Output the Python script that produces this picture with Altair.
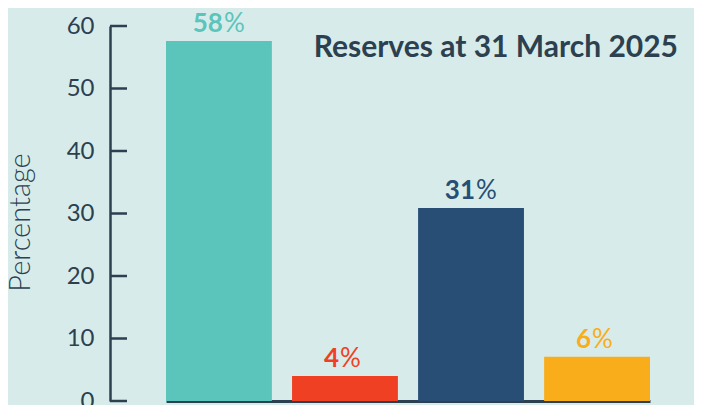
import altair as alt
import pandas as pd

categories = ["Reserve A", "Reserve B", "Reserve C", "Reserve D"]
bar_values = [57.6, 4.0, 30.9, 7.1]
label_values = [58, 4, 31, 6]
colors = ["#5bc4bb", "#f04023", "#284e75", "#f9ad1b"]
y_ticks = [0, 10, 20, 30, 40, 50, 60]

df = pd.DataFrame({
    "category": categories,
    "value": bar_values,
    "label": [str(v) for v in label_values],
    "ndigits": [len(str(v)) for v in label_values],
    "pct": ["%"] * len(categories),
})
ticks_df = pd.DataFrame({"tick": y_ticks})

FONT = "Lato"
DARK = "#2c4050"
BG = "#d7ecea"

yscale = alt.Scale(domain=[0, 60], nice=False, zero=True)
x = alt.X("category:N", sort=categories,
          axis=alt.Axis(labels=False, ticks=False, title=None, domain=True,
                        domainColor=DARK, domainWidth=3),
          scale=alt.Scale(range=[56, 540], paddingInner=0.16, paddingOuter=0))
y = alt.Y("value:Q", scale=yscale,
          axis=alt.Axis(values=y_ticks, ticks=False, grid=False,
                        labelFont=FONT, labelFontSize=24, labelColor=DARK,
                        labelPadding=16, domainColor=DARK, domainWidth=2.5,
                        title="Percentage", titleFont=FONT, titleFontSize=29,
                        titleFontWeight=300, titleColor=DARK, titleAngle=-90,
                        titleAlign="center", titleBaseline="alphabetic",
                        titleX=-81, titleY=196))
color = alt.Color("category:N", scale=alt.Scale(domain=categories, range=colors), legend=None)

bars = alt.Chart(df).mark_bar().encode(x=x, y=y, color=color)

tick_rules = alt.Chart(ticks_df).mark_rule(color=DARK, strokeWidth=2.5).encode(
    y=alt.Y("tick:Q", scale=yscale), x=alt.value(0), x2=alt.value(17))

def labels(nd, dx):
    base = alt.Chart(df).transform_filter(alt.datum.ndigits == nd)
    num = base.mark_text(align="right", baseline="alphabetic", dx=dx, dy=-9,
                         font=FONT, fontSize=26, fontWeight="bold").encode(
        x=x, y=y, text="label:N", color=color)
    pct = base.mark_text(align="left", baseline="alphabetic", dx=dx + 1, dy=-9,
                         font=FONT, fontSize=26, fontWeight="normal").encode(
        x=x, y=y, text="pct:N", color=color)
    return [num, pct]

layers = [bars, tick_rules] + labels(2, 4) + labels(1, -6)

chart = alt.layer(*layers).properties(
    width=584, height=375, background=BG,
    padding={"left": 102, "top": 18, "right": 0, "bottom": 10},
    autosize=alt.AutoSizeParams(type="none"),
    title=alt.TitleParams("Reserves at 31 March 2025", anchor="end", orient="top",
                          frame="group", font=FONT, fontSize=30, fontWeight="bold",
                          color=DARK, offset=0, baseline="alphabetic", dy=76, dx=-16),
).configure_view(stroke=None)

chart.save("out.html", embed_options={"renderer": "svg", "actions": False})
